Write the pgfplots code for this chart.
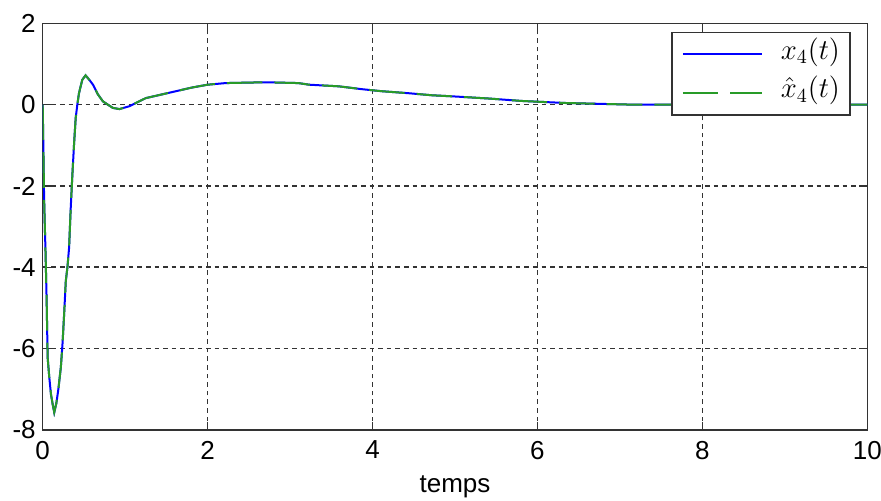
\documentclass[border=0pt]{standalone}
\usepackage{fontspec}
\setmainfont{Liberation Sans}
\usepackage{pgfplots}
\pgfplotsset{compat=1.18}

\definecolor{mblue}{RGB}{0,0,255}
\definecolor{mgreen}{RGB}{40,155,40}

% x4(t) and its estimate
\pgfplotstableread{
t v
0 0
0.01 -1.3
0.017 -2.29
0.024 -2.86
0.033 -3.52
0.048 -4.83
0.06 -6.22
0.08 -6.71
0.10 -7.12
0.12 -7.36
0.14 -7.57
0.165 -7.35
0.19 -7.0
0.22 -6.46
0.24 -5.89
0.26 -5.15
0.28 -4.34
0.30 -4.0
0.32 -3.52
0.34 -2.54
0.36 -1.72
0.38 -0.98
0.40 -0.33
0.42 0
0.44 0.28
0.48 0.61
0.52 0.72
0.565 0.61
0.61 0.49
0.67 0.25
0.73 0.08
0.85 -0.08
0.93 -0.11
1.05 -0.04
1.25 0.16
1.53 0.29
1.81 0.42
2.0 0.49
2.22 0.53
2.7 0.55
3.1 0.53
3.23 0.49
3.59 0.45
3.87 0.38
4.11 0.33
4.44 0.28
4.72 0.23
5.0 0.20
5.41 0.15
5.81 0.09
6.34 0.04
7.14 0.0
10 0
}\xdata

\begin{document}
\begin{tikzpicture}
\begin{axis}[
  scale only axis,
  width=412.3pt, height=203.3pt,
  xmin=0, xmax=10, ymin=-8, ymax=2,
  xtick={0,2,...,10}, ytick={-8,-6,...,2},
  grid=major,
  major grid style={black!80, line width=0.8pt, dash pattern=on 2.3pt off 2pt},
  tick align=inside, tick pos=both, major tick length=4pt,
  axis line style={black!80, line width=0.75pt},
  tick style={black!80, line width=0.75pt},
  ticklabel style={font=\fontsize{13}{15}\selectfont},
  xticklabel style={yshift=-2pt},
  /pgf/number format/assume math mode=true,
  xlabel={temps},
  xlabel style={at={(axis description cs:0.5,0)}, anchor=base, yshift=-31.3pt,
    font=\fontsize{13}{15}\selectfont},
  legend cell align=left,
  legend image code/.code={\draw[#1] (0pt,0pt) -- (39.5pt,0pt); \path (48.5pt,0pt);},
  legend style={at={(rel axis cs:1,1)}, anchor=north east, xshift=-8.3pt, yshift=-4.2pt,
    draw=black!80, line width=0.75pt, fill=white,
    inner xsep=5pt, inner ysep=4.5pt, row sep=6.2pt,
    font=\fontsize{14.5}{17}\selectfont,
    nodes={inner sep=0pt, text height=9pt, text depth=4pt}},
]
\coordinate (ll) at (rel axis cs:0,0);
\coordinate (ur) at (rel axis cs:1,1);
\addplot[mblue, line width=1pt] table[x=t, y=v] {\xdata};
\addlegendentry{$x_4(t)$}
\addplot[mgreen, line width=1pt, dash pattern=on 17.8pt off 6pt] table[x=t, y=v] {\xdata};
\addlegendentry{$\hat{x}_4(t)$}
\end{axis}
\pgfresetboundingbox
\path ([shift={(-21.35pt,-35.5pt)}]ll) rectangle ([shift={(6.85pt,11.65pt)}]ur);
\end{tikzpicture}
\end{document}
